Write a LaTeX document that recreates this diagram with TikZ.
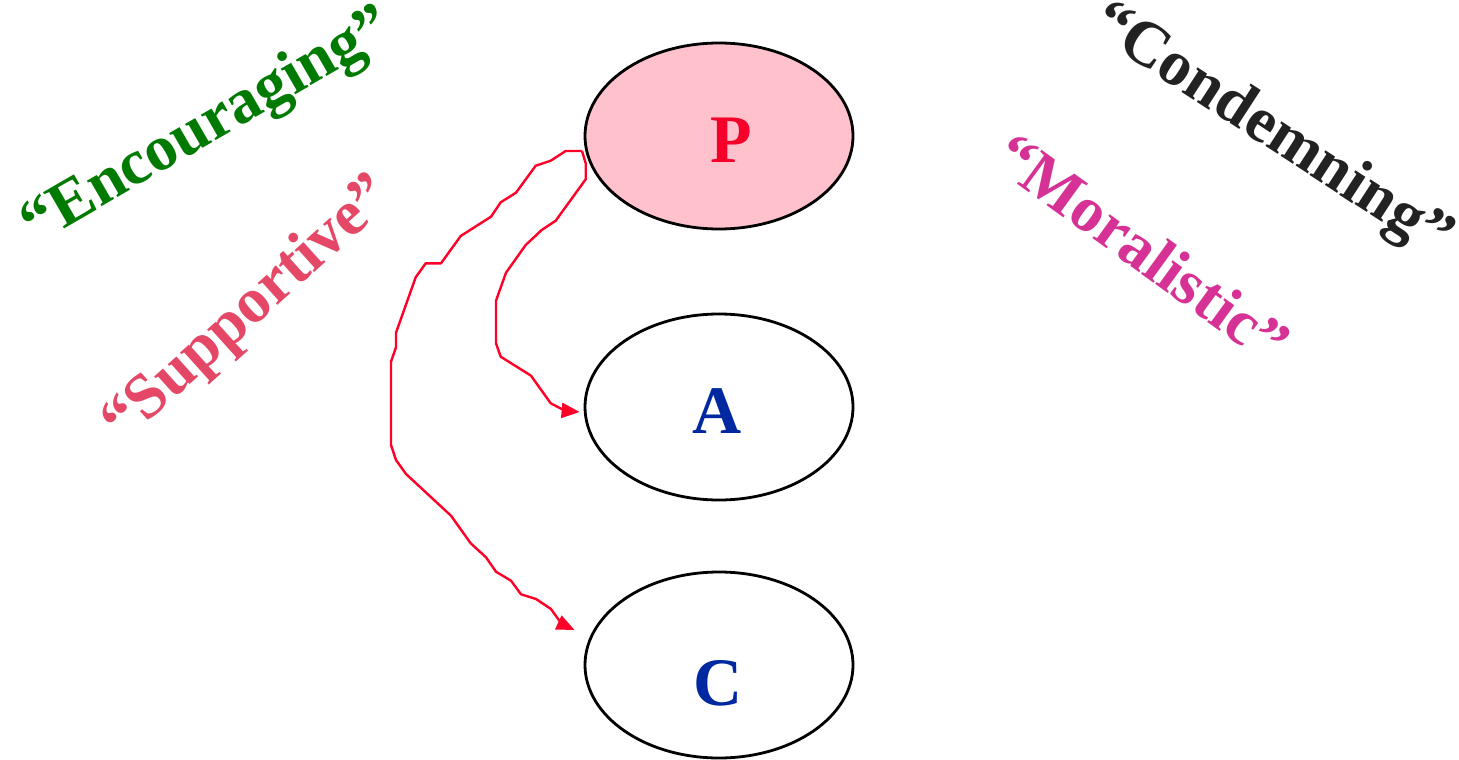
\documentclass[tikz,border=0pt]{standalone}
\usepackage{fontspec}
\setmainfont{Liberation Serif}
\usetikzlibrary{arrows.meta,shapes.geometric,positioning}

\definecolor{pinkfill}{RGB}{255,194,204}
\definecolor{letred}{RGB}{245,0,42}
\definecolor{letblue}{RGB}{0,40,160}
\definecolor{arrowred}{RGB}{255,0,40}
\definecolor{encgreen}{RGB}{0,122,0}
\definecolor{supred}{RGB}{228,72,102}
\definecolor{condgray}{RGB}{34,34,34}
\definecolor{moralpink}{RGB}{214,50,150}

\begin{document}
\begin{tikzpicture}[x=1pt,y=-1pt,>={Triangle[length=18pt,width=15pt]},
        node distance=271pt,
        circ/.style={ellipse,draw,line width=2.8pt,minimum width=268pt,minimum height=186pt,inner sep=0pt},
        lettr/.style={font=\fontsize{68}{80}\selectfont\bfseries,inner sep=0pt},
        word/.style={font=\fontsize{64}{76}\selectfont\bfseries,inner sep=0pt},
        flow/.style={->,draw=arrowred,line width=2.4pt,line join=round}]

        \useasboundingbox (0,0) rectangle (1459,760);

        \node[circ,fill=pinkfill,label={[lettr,text=letred,xshift=12pt,yshift=-4pt]center:P}] (P) at (719,136) {};
        \node[circ,label={[lettr,text=letblue,xshift=-2pt,yshift=-4pt]center:A}] (A) [below of=P] {};
        \node[circ,label={[lettr,text=letblue,xshift=-1pt,yshift=-18pt]center:C}] (C) [below of=A,node distance=258pt] {};

        % the four attitudes
        \node[word,text=encgreen,rotate=30] (enc) at (208,128) {``Encouraging''};
        \node[word,text=supred,rotate=42] (sup) at (249,311) {``Supportive''};
        \node[word,text=condgray,rotate=-33] (cond) at (1271,132) {``Condemning''};
        \node[word,text=moralpink,rotate=-36] (moral) at (1143,248) {``Moralistic''};

        \coordinate (Pout) at (582,151);

        % P to A
        \draw[flow] (Pout) -- (585.7,163.3) -- (585.7,179.3) -- (555.7,220.7) -- (541.7,230)
            -- (525.7,245) -- (506,272.7) -- (496,300.7) -- (496,343.3) -- (500.7,356.7)
            -- (531,375.7) -- (550.7,403.3) -- (565,410.7) -- ([shift={(-4,5)}]A.west);

        % P to C
        \draw[flow] (Pout) -- (565.7,151) -- (550.7,160.7) -- (535.7,165.7) -- (516,192.7)
            -- (500.7,202.3) -- (491,216.7) -- (460.7,236) -- (441,263.3) -- (425.7,263.3)
            -- (415.7,277.3) -- (396,332.7) -- (396,347.3) -- (391,361.7) -- (391,445)
            -- (396,460) -- (406,474) -- (451,515.7) -- (470.7,543.3) -- (486,557.3)
            -- (496,571.7) -- (511,580.7) -- (521,594.3) -- (536,599) -- (551,609)
            -- (561.7,624) -- ([shift={(-9,-35)}]C.west);
\end{tikzpicture}
\end{document}
